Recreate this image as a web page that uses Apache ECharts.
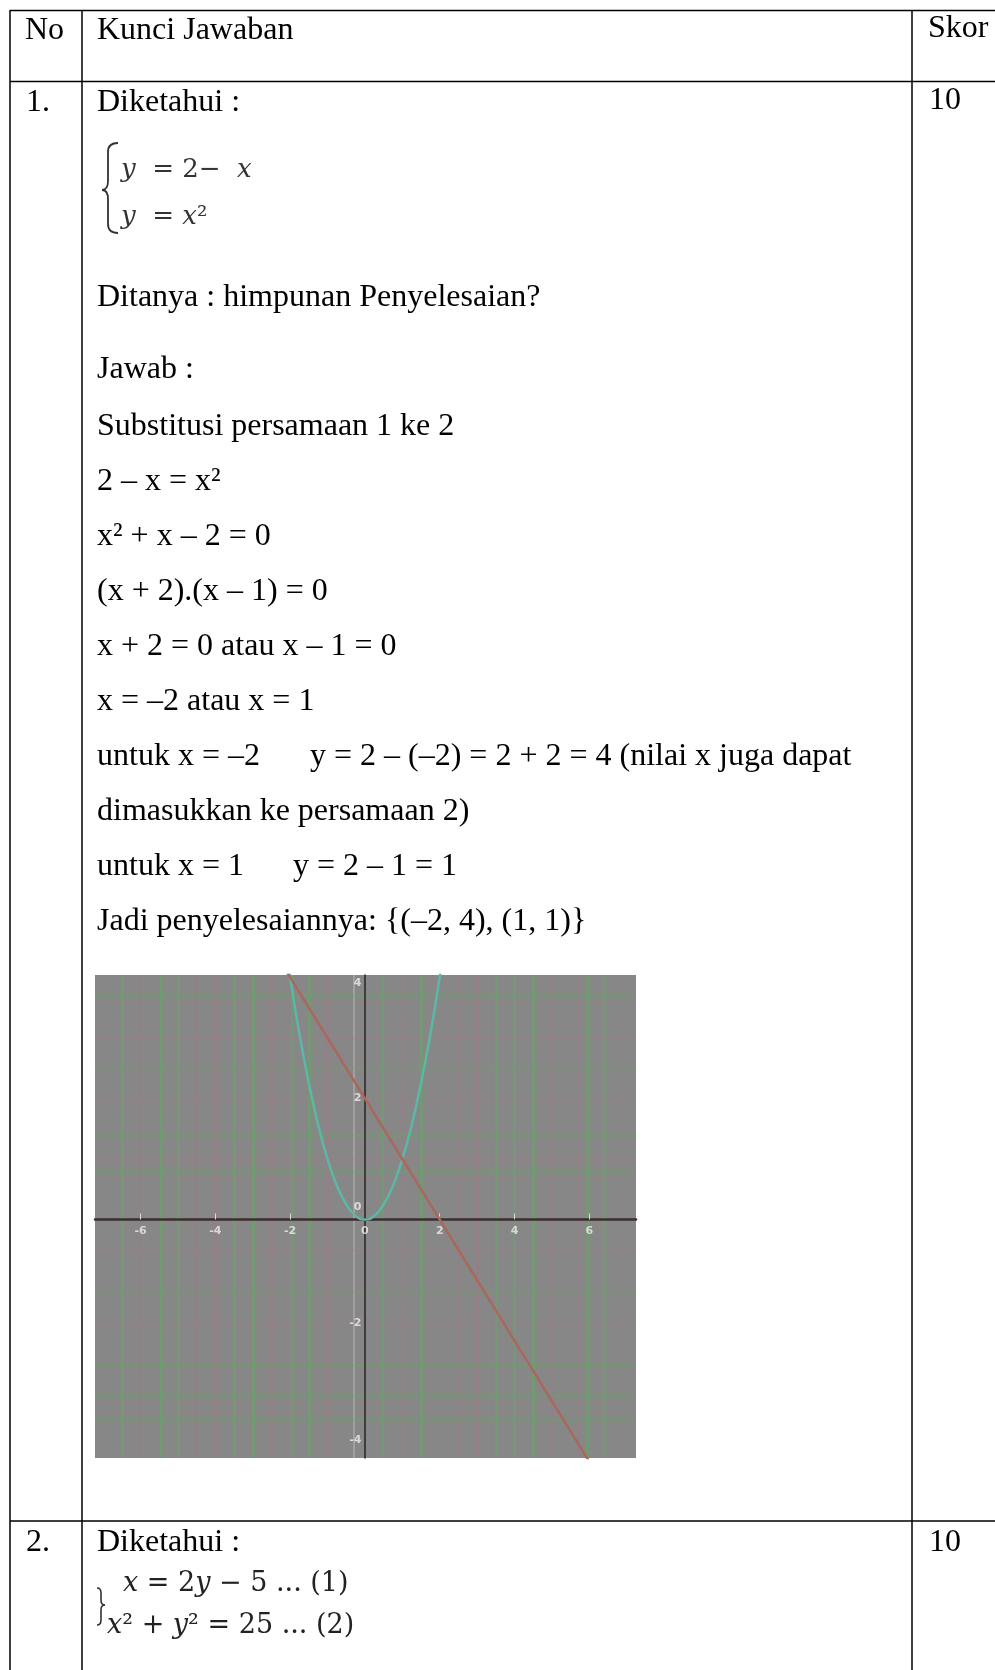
<!DOCTYPE html>
<html lang="id">
<head>
    <meta charset="UTF-8">
    <title>Kunci Jawaban</title>
    <script src="https://cdn.jsdelivr.net/npm/echarts/dist/echarts.min.js"></script>
    <style>
        html, body { margin: 0; padding: 0; background: #fff; }
        #chart { width: 995px; height: 1670px; }
    </style>
</head>
<body>
<div id="chart"></div>

<script>
    // kurva y = x^2 (titik)
    const parabolaX = [-2.1, -2, -1.75, -1.5, -1.25, -1, -0.75, -0.5, -0.25, 0, 0.25, 0.5, 0.75, 1, 1.25, 1.5, 1.75, 2, 2.1];
    const parabolaY = [4.41, 4, 3.06, 2.25, 1.56, 1, 0.56, 0.25, 0.06, 0, 0.06, 0.25, 0.56, 1, 1.56, 2.25, 3.06, 4, 4.41];
    // garis y = 2 - x
    const lineX = [-2.5, 0, 2, 4, 6.5];
    const lineY = [4.5, 2, 0, -2, -4.5];
    // label sumbu
    const xTickLabels = [-6, -4, -2, 0, 2, 4, 6];
    const yTickLabels = [4, 2, 0, -2, -4];
    // garis-garis grid (warna hijau / merah muda di gambar asli)
    const greenX = [-6.5, -5.45, -5, -3.5, -3, -1.95, -1.5, 0.45, 1.5, 3.5, 4, 4.5, 5.95, 6.4];
    const pinkX = [-6, -4.5, -4, -2.5, -1, 1, 2.5, 3, 5, 5.7];
    const lightX = [-0.3];
    const greenY = [3.7, 2.5, 1.4, 0.8, -1.2, -2.4, -2.9, -3.3];
    const pinkY = [3, 2, 1, -0.5, -1.7];

    // isi tabel
    const header = ['No', 'Kunci Jawaban', 'Skor'];
    const rowNo = ['1.', '2.'];
    const rowSkor = ['10', '10'];
    const knownLabel = 'Diketahui :';
    const eq1 = ['{i|y}  = 2−  {i|x}', '{i|y}  = {i|x}²'];
    const eq2 = ['{i|x} = 2{i|y} − 5 ... (1)', '{i|x}² + {i|y}² = 25 ... (2)'];
    const askLines = ['Ditanya : himpunan Penyelesaian?', 'Jawab :'];
    const workLines = [
        'Substitusi persamaan 1 ke 2',
        '2 – x = x²',
        'x² + x – 2 = 0',
        '(x + 2).(x – 1) = 0',
        'x + 2 = 0 atau x – 1 = 0',
        'x = –2 atau x = 1',
        ['untuk x = –2', 'y = 2 – (–2) = 2 + 2 = 4 (nilai x juga dapat'],
        'dimasukkan ke persamaan 2)',
        ['untuk x = 1', 'y = 2 – 1 = 1'],
        'Jadi penyelesaiannya: {(–2, 4), (1, 1)}'
    ];

    const SERIF = '"Liberation Serif", "Times New Roman", serif';
    const MATH = '"DejaVu Serif", serif';

    // teks dengan posisi garis dasar (baseline)
    function txt(str, x, base, size, family, color, rich) {
        size = size || 32;
        const style = {
            text: str,
            fontFamily: family || SERIF,
            fontSize: size,
            fill: color || '#000',
            align: 'left',
            verticalAlign: 'middle'
        };
        if (rich) style.rich = rich;
        return { type: 'text', x: x, y: base - size * 0.33, z: 10, silent: true, style: style };
    }

    function hline(y, x1, x2) {
        return { type: 'line', z: 10, silent: true, shape: { x1: x1, y1: y, x2: x2, y2: y },
            style: { stroke: '#000', lineWidth: 1.5 } };
    }
    function vline(x, y1, y2) {
        return { type: 'line', z: 10, silent: true, shape: { x1: x, y1: y1, x2: x, y2: y2 },
            style: { stroke: '#000', lineWidth: 1.5 } };
    }

    // kurung kurawal dari beberapa kurva
    function brace(xOut, xMid, xTip, yTop, yMidv, yBot, r, w) {
        const st = { stroke: '#333', lineWidth: w || 1.4, fill: null };
        const parts = [
            { shape: { x1: xOut, y1: yTop, x2: xMid, y2: yTop + r, cpx1: xMid, cpy1: yTop } },
            { shape: { x1: xMid, y1: yMidv - r, x2: xTip, y2: yMidv, cpx1: xMid, cpy1: yMidv } },
            { shape: { x1: xTip, y1: yMidv, x2: xMid, y2: yMidv + r, cpx1: xMid, cpy1: yMidv } },
            { shape: { x1: xMid, y1: yBot - r, x2: xOut, y2: yBot, cpx1: xMid, cpy1: yBot } }
        ].map(p => ({ type: 'bezierCurve', z: 10, silent: true, shape: p.shape, style: st }));
        parts.push({ type: 'line', z: 10, silent: true, shape: { x1: xMid, y1: yTop + r, x2: xMid, y2: yMidv - r }, style: st });
        parts.push({ type: 'line', z: 10, silent: true, shape: { x1: xMid, y1: yMidv + r, x2: xMid, y2: yBot - r }, style: st });
        return parts;
    }

    const mathRich = function (size, color) {
        return { i: { fontFamily: MATH, fontSize: size, fontStyle: 'italic', fill: color } };
    };

    const els = [];
    // garis tabel
    els.push(vline(10, 10, 1670), vline(82, 10, 1670), vline(912, 10, 1670));
    els.push(hline(10.5, 10, 995), hline(81.5, 10, 995), hline(1521, 10, 995));

    // header
    els.push(txt(header[0], 25, 41), txt(header[1], 97, 41), txt(header[2], 928, 39));

    // baris 1
    els.push(txt(rowNo[0], 26, 113), txt(knownLabel, 97, 113), txt(rowSkor[0], 929, 111));
    els.push(...brace(118, 108, 102, 143, 190, 233, 9, 1.8));
    els.push(txt(eq1[0], 121, 179, 26, MATH, '#333', mathRich(26, '#333')));
    els.push(txt(eq1[1], 121, 226, 26, MATH, '#333', mathRich(26, '#333')));
    els.push(txt(askLines[0], 97, 308), txt(askLines[1], 97, 380));
    workLines.forEach((ln, i) => {
        const base = 437 + 55 * i;
        if (Array.isArray(ln)) {
            els.push(txt(ln[0], 97, base));
            els.push(txt(ln[1], i === 6 ? 310 : 293, base));
        } else {
            els.push(txt(ln, 97, base));
        }
    });

    // baris 2
    els.push(txt(rowNo[1], 26, 1553), txt(knownLabel, 97, 1553), txt(rowSkor[1], 929, 1553));
    els.push(...brace(97, 101, 105, 1588, 1605, 1625, 5, 1.6));
    els.push(txt(eq2[0], 123, 1593, 27, MATH, '#222', mathRich(27, '#222')));
    els.push(txt(eq2[1], 107, 1635, 27, MATH, '#222', mathRich(27, '#222')));

    // garis grid sebagai markLine
    const stripeData = []
        .concat(greenX.map(v => ({ xAxis: v, lineStyle: { color: 'rgba(95,170,95,0.5)', width: 3 } })))
        .concat(pinkX.map(v => ({ xAxis: v, lineStyle: { color: 'rgba(170,115,135,0.35)', width: 3 } })))
        .concat(lightX.map(v => ({ xAxis: v, lineStyle: { color: 'rgba(220,220,220,0.3)', width: 2 } })))
        .concat(greenY.map(v => ({ yAxis: v, lineStyle: { color: 'rgba(100,165,100,0.3)', width: 3 } })))
        .concat(pinkY.map(v => ({ yAxis: v, lineStyle: { color: 'rgba(170,120,135,0.25)', width: 3 } })));

    const labelColor = '#eeeeee';
    const yShift = { 4: 'a', 2: 'b', 0: 'c', '-2': 'd', '-4': 'e' };
    const lbl = { color: labelColor, fontSize: 11, fontWeight: 'bold', fontFamily: 'DejaVu Sans' };

    const chart = echarts.init(document.getElementById('chart'));
    const option = {
        animation: false,
        grid: {
            left: 95, top: 975, width: 541, height: 483,
            show: true, backgroundColor: '#878787', borderWidth: 0,
            outerBoundsMode: 'none'
        },
        xAxis: {
            type: 'value', min: -7.22, max: 7.25, z: 3,
            axisLine: { onZero: true, lineStyle: { color: '#3d2e2e', width: 2.5 } },
            axisTick: {
                show: true, inside: true, length: 6,
                customValues: xTickLabels.filter(v => v !== 0),
                lineStyle: { color: '#dddddd', width: 1 }
            },
            axisLabel: { show: false },
            splitLine: { show: false }
        },
        yAxis: {
            type: 'value', min: -3.94, max: 4.04, z: 3,
            axisLine: { onZero: true, lineStyle: { color: '#2b2222', width: 1.5 } },
            axisTick: { show: false },
            axisLabel: { show: false },
            splitLine: { show: false }
        },
        series: [
            {
                name: 'grid',
                type: 'line',
                data: [[0, 0]],
                symbol: 'none',
                lineStyle: { opacity: 0 },
                silent: true,
                z: 1,
                markLine: {
                    z: 1,
                    silent: true,
                    symbol: ['none', 'none'],
                    label: { show: false },
                    lineStyle: { type: 'solid' },
                    data: stripeData
                }
            },
            {
                name: 'y = x²',
                type: 'line',
                data: parabolaX.map((x, i) => [x, parabolaY[i]]),
                smooth: true,
                showSymbol: false,
                z: 4,
                lineStyle: { color: '#5bb8a6', width: 2.5 }
            },
            {
                name: 'y = 2 - x',
                type: 'line',
                data: lineX.map((x, i) => [x, lineY[i]]),
                showSymbol: false,
                z: 4,
                lineStyle: { color: '#a9685d', width: 2.5 }
            },
            {
                // label sumbu x pada garis nol
                name: 'label x',
                type: 'scatter',
                data: xTickLabels.map(v => [v, 0]),
                symbolSize: 1,
                clip: false,
                itemStyle: { color: 'rgba(0,0,0,0)' },
                silent: true,
                z: 5,
                label: Object.assign({ show: true, position: 'bottom', distance: 6,
                    formatter: p => String(p.value[0]) }, lbl)
            },
            {
                // label sumbu y pada garis nol
                name: 'label y',
                type: 'scatter',
                data: yTickLabels.map(v => [0, v]),
                symbolSize: 1,
                clip: false,
                itemStyle: { color: 'rgba(0,0,0,0)' },
                silent: true,
                z: 5,
                label: {
                    show: true, position: 'left', distance: 3,
                    formatter: p => '{' + yShift[p.value[1]] + '|' + p.value[1] + '}',
                    rich: {
                        a: Object.assign({ padding: [12, 0, 0, 0] }, lbl),
                        b: Object.assign({}, lbl),
                        c: Object.assign({ padding: [0, 0, 24, 0] }, lbl),
                        d: Object.assign({ padding: [0, 0, 34, 0] }, lbl),
                        e: Object.assign({ padding: [0, 0, 42, 0] }, lbl)
                    }
                }
            }
        ],
        graphic: { elements: els }
    };
    chart.setOption(option);
</script>
</body>
</html>
